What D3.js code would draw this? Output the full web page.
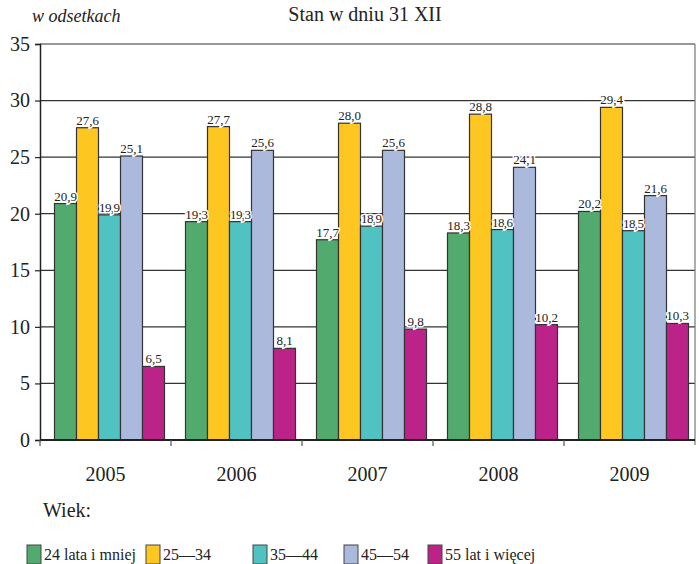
<!DOCTYPE html>
<html>
<head>
<meta charset="utf-8">
<script src="https://cdn.jsdelivr.net/npm/d3@7"></script>
<style>
  body { margin: 0; background: #fff; }
  svg { font-family: "Liberation Serif", "Times New Roman", serif; }
</style>
</head>
<body>
<div id="chart"></div>
<script>
// Data
const years = ['2005', '2006', '2007', '2008', '2009'];
const seriesNames = ['24 lata i mniej', '25\u201434', '35\u201444', '45\u201454', '55 lat i więcej'];
const v24 = [20.9, 19.3, 17.7, 18.3, 20.2];
const v25 = [27.6, 27.7, 28.0, 28.8, 29.4];
const v35 = [19.9, 19.3, 18.9, 18.6, 18.5];
const v45 = [25.1, 25.6, 25.6, 24.1, 21.6];
const v55 = [6.5, 8.1, 9.8, 10.2, 10.3];
const yTicks = [0, 5, 10, 15, 20, 25, 30, 35];

const colors = ['#52aa6e', '#fdc621', '#4fc2c1', '#abb9dd', '#bc2389'];
const allValues = [v24, v25, v35, v45, v55];

const W = 699, H = 564;
const svg = d3.select('#chart').append('svg')
  .attr('width', W)
  .attr('height', H);

const x = d3.scaleBand().domain(years).range([40, 695]);
const xs = d3.scaleBand().domain(d3.range(seriesNames.length)).range([14.5, 124.5]);
const y = d3.scaleLinear().domain([0, 35]).range([440, 44]);

// Title + unit
svg.append('text')
  .attr('x', 365).attr('y', 21)
  .attr('text-anchor', 'middle')
  .attr('font-size', 20)
  .attr('fill', '#222')
  .text('Stan w dniu 31 XII');

svg.append('text')
  .attr('x', 32).attr('y', 22)
  .attr('font-size', 18)
  .attr('font-style', 'italic')
  .attr('fill', '#222')
  .text('w odsetkach');

// gridlines
svg.append('g')
  .selectAll('line')
  .data(yTicks.filter(d => d > 0))
  .join('line')
  .attr('x1', 40).attr('x2', 695)
  .attr('y1', d => y(d)).attr('y2', d => y(d))
  .attr('stroke', '#333')
  .attr('stroke-width', 1.2);

// right border
svg.append('line')
  .attr('x1', 695).attr('x2', 695)
  .attr('y1', y(35)).attr('y2', 445)
  .attr('stroke', '#777')
  .attr('stroke-width', 1.2);

// bars
const rows = [];
years.forEach((yr, i) => {
  allValues.forEach((arr, s) => rows.push({ year: yr, s, v: arr[i] }));
});

svg.append('g')
  .selectAll('rect')
  .data(rows)
  .join('rect')
  .attr('x', d => x(d.year) + xs(d.s))
  .attr('y', d => y(d.v))
  .attr('width', xs.bandwidth())
  .attr('height', d => y(0) - y(d.v))
  .attr('fill', d => colors[d.s])
  .attr('stroke', '#333')
  .attr('stroke-width', 1.2);

// value labels
const fmt = d => d.toFixed(1).replace('.', ',');
const labels = svg.append('g')
  .selectAll('g')
  .data(rows)
  .join('g')
  .attr('transform', d => `translate(${x(d.year) + xs(d.s) + xs.bandwidth() / 2},${y(d.v) - 3})`);

labels.append('text')
  .attr('text-anchor', 'middle')
  .attr('font-size', 13)
  .attr('fill', '#222')
  .attr('stroke', '#fff')
  .attr('stroke-width', 3)
  .attr('paint-order', 'stroke')
  .attr('textLength', d => d.s === 2 ? 21 : null)
  .text(d => fmt(d.v));

// y axis
const yAxis = svg.append('g')
  .attr('transform', 'translate(40,0)')
  .call(d3.axisLeft(y).tickValues(yTicks).tickSize(5).tickPadding(5).tickFormat(d3.format('d')));
yAxis.select('.domain').attr('stroke', '#222').attr('stroke-width', 1.5);
yAxis.selectAll('.tick line').attr('stroke', '#222').attr('stroke-width', 1.2);
yAxis.selectAll('text')
  .attr('font-family', '"Liberation Serif", serif')
  .attr('font-size', 20)
  .attr('fill', '#222');

// x axis
const xAxis = svg.append('g')
  .attr('transform', 'translate(0,440)');
xAxis.append('line')
  .attr('x1', 40).attr('x2', 695)
  .attr('stroke', '#222').attr('stroke-width', 2);
xAxis.selectAll('line.tk')
  .data(years)
  .join('line')
  .attr('class', 'tk')
  .attr('x1', d => x(d)).attr('x2', d => x(d))
  .attr('y1', 0).attr('y2', 6)
  .attr('stroke', '#555').attr('stroke-width', 1.2);
xAxis.selectAll('text')
  .data(years)
  .join('text')
  .attr('x', d => x(d) + x.bandwidth() / 2)
  .attr('y', 41)
  .attr('text-anchor', 'middle')
  .attr('font-size', 20)
  .attr('fill', '#222')
  .text(d => d);

// legend
svg.append('text')
  .attr('x', 43).attr('y', 517)
  .attr('font-size', 20)
  .attr('fill', '#222')
  .text('Wiek:');

const legendX = [27, 146, 253, 344, 428];
const leg = svg.append('g')
  .selectAll('g')
  .data(seriesNames)
  .join('g')
  .attr('transform', (d, i) => `translate(${legendX[i]},545)`);
leg.append('rect')
  .attr('width', 14).attr('height', 19)
  .attr('fill', (d, i) => colors[i])
  .attr('stroke', '#444')
  .attr('stroke-width', 1);
leg.append('text')
  .attr('x', 17).attr('y', 15)
  .attr('font-size', 16)
  .attr('fill', '#222')
  .text(d => d);
</script>
</body>
</html>
